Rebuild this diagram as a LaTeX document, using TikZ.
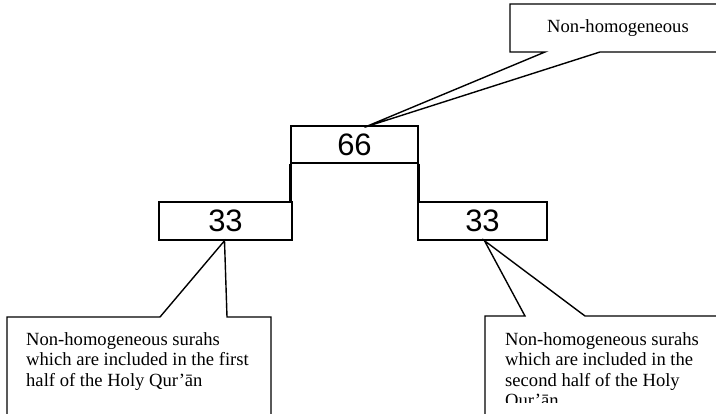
\documentclass[tikz,border=0pt]{standalone}
\usepackage{fontspec}
\setmainfont{Liberation Serif}
\newfontfamily\numfont{Liberation Sans}
\usetikzlibrary{calc}
\tikzset{
  numbox/.style={draw, line width=1.5pt, inner sep=0pt, font=\numfont\fontsize{31}{31}\selectfont},
  callout/.style={draw, line width=1.4pt, fill=white},
  calltext/.style={inner sep=0pt, align=left, font=\fontsize{18.6}{20.5}\selectfont},
  joinline/.style={line width=3.2pt}
}
\begin{document}
\begin{tikzpicture}[x=1pt,y=-1pt]
\useasboundingbox (0,0) rectangle (716,414);
% number boxes
\node[numbox, minimum width=127pt, minimum height=37pt] (n66) at (354.5,144.5) {66};
\node[numbox, minimum width=133pt, minimum height=38pt] (n33l) at (225.5,221) {33};
\node[numbox, minimum width=129pt, minimum height=38pt] (n33r) at (482.5,221) {33};
% joins
\draw[joinline] (n66.south west) -- (n66.south west |- n33l.north);
\draw[joinline] (n66.south east) -- (n66.south east |- n33r.north);
% top callout
\coordinate (tipT) at ([xshift=10pt,yshift=-2pt]n66.north);
\draw[callout] (722,52) -- (600,52) -- (tipT) -- (545,52) -- (510,52) -- (510,4) -- (722,4);
\node[calltext, anchor=base] (cTop) at (618,33) {Non-homogeneous};
% left callout
\coordinate (tipL) at ([xshift=-1pt]n33l.south);
\draw[callout] (7,420) -- (7,317) -- (160,317) -- (tipL) -- (227,317) -- (271,317) -- (271,420);
\node[calltext, anchor=north west] (cLeft) at (26,332) {Non-homogeneous surahs\\which are included in the first\\half of the Holy Qur’ān};
% right callout
\coordinate (tipR) at ([xshift=2pt]n33r.south);
\draw[callout] (485,420) -- (485,316) -- (525,316) -- (tipR) -- (585,316) -- (722,316);
\begin{scope}
\clip (486,317) rectangle (716,403);
\node[calltext, anchor=north west] (cRight) at (505,332) {Non-homogeneous surahs\\which are included in the\\second half of the Holy\\Qur’ān};
\end{scope}
\end{tikzpicture}
\end{document}
